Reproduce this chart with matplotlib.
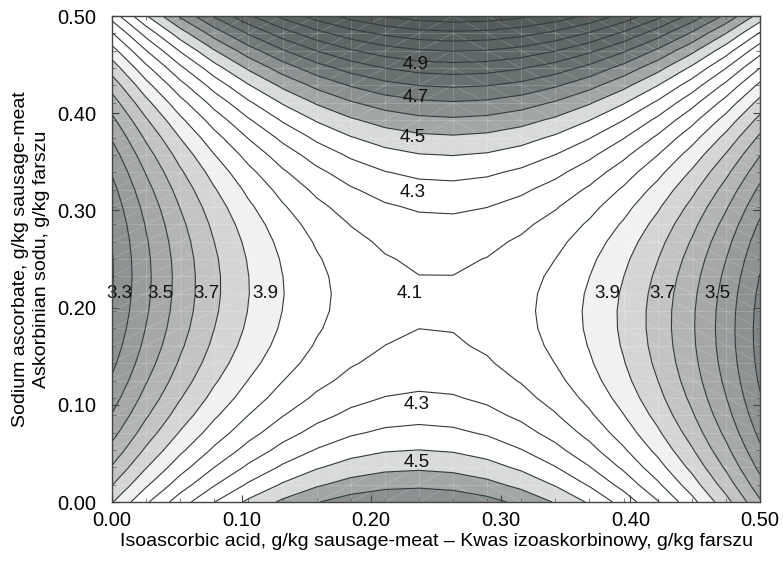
import numpy as np
import matplotlib
matplotlib.use("Agg")
import matplotlib.pyplot as plt
from matplotlib.ticker import FixedLocator, FormatStrFormatter
from matplotlib.collections import LineCollection

plt.rcParams['font.family'] = ['Liberation Sans', 'DejaVu Sans']

# ---- fitted response surface (saddle point + coefficients) ----
saddle_x = 0.248
saddle_y = 0.205
saddle_value = 4.192
coef_uu = -14.3      # (x - x0)^2
coef_uuuu = -2.8     # (x - x0)^4
coef_vv = 12.5       # (y - y0)^2
coef_vvvv = 37.0     # (y - y0)^4
coef_uv = 2.4        # (x - x0)(y - y0)
coef_uuvv = -47.0    # (x - x0)^2 (y - y0)^2

# grid on which the software evaluated the surface
grid_x = np.linspace(0.0, 0.5, 20)
grid_y = np.linspace(0.0, 0.5, 29)

# contour levels and fill colours of each band (lower bound -> colour)
levels = np.round(np.arange(2.9, 6.01, 0.1), 1)
band_colors = ['#727979', '#757b7b', '#797f7f', '#7f8585', '#8c9191', '#999c9c',
               '#a6a8a8', '#b3b4b4', '#c3c3c3', '#d5d5d5', '#f1f1f1',
               '#ffffff', '#ffffff', '#ffffff', '#ffffff', '#ffffff',
               '#d9dada', '#a3a6a6', '#8b9090', '#747b7b', '#697070',
               '#636a6a', '#5f6767', '#5b6363', '#575f5f', '#545c5c',
               '#515959', '#4e5656', '#4d5555', '#4c5454']

# contour labels (value, position)
label_text = ['3.3', '3.5', '3.7', '3.9', '4.1', '3.9', '3.7', '3.5',
              '4.9', '4.7', '4.5', '4.3', '4.3', '4.5']
label_x = [0.006, 0.037, 0.073, 0.118, 0.230, 0.382, 0.425, 0.467,
           0.234, 0.234, 0.232, 0.232, 0.235, 0.235]
label_y = [0.215, 0.215, 0.215, 0.215, 0.215, 0.215, 0.215, 0.215,
           0.450, 0.416, 0.375, 0.318, 0.100, 0.041]

x_ticks = [0.0, 0.1, 0.2, 0.3, 0.4, 0.5]
y_ticks = [0.0, 0.1, 0.2, 0.3, 0.4, 0.5]

X, Y = np.meshgrid(grid_x, grid_y)
U = X - saddle_x
V = Y - saddle_y
Z = (saddle_value + coef_uu * U**2 + coef_uuuu * U**4 + coef_vv * V**2
     + coef_vvvv * V**4 + coef_uv * U * V + coef_uuvv * U**2 * V**2)

fig = plt.figure(figsize=(7.83, 5.68), dpi=100)
ax = fig.add_axes([112/783, 1 - 502/568, 648/783, 486/568])

ax.contourf(X, Y, Z, levels=levels, colors=band_colors, antialiased=True, zorder=1)

# faint mesh seams of the rendered surface (grid cells split into triangles)
segs = []
for gx in grid_x:
    segs.append([(gx, 0.0), (gx, 0.5)])
for gy in grid_y:
    segs.append([(0.0, gy), (0.5, gy)])
for i in range(len(grid_x) - 1):
    for j in range(len(grid_y) - 1):
        x0, x1 = grid_x[i], grid_x[i + 1]
        y0, y1 = grid_y[j], grid_y[j + 1]
        if x1 <= 0.27:
            segs.append([(x0, y0), (x1, y1)])
        else:
            segs.append([(x0, y1), (x1, y0)])
ax.add_collection(LineCollection(segs, colors='white', linewidths=0.6,
                                 alpha=0.2, zorder=2))

ax.contour(X, Y, Z, levels=levels, colors='#2f3a3a', linewidths=0.8, zorder=3)

for s, lx, ly in zip(label_text, label_x, label_y):
    ax.text(lx, ly, s, ha='center', va='center', fontsize=13.5, color='#111111',
            clip_on=False, zorder=5)

ax.set_xlim(0, 0.5)
ax.set_ylim(0, 0.5)
ax.xaxis.set_major_locator(FixedLocator(x_ticks))
ax.yaxis.set_major_locator(FixedLocator(y_ticks))
ax.xaxis.set_minor_locator(FixedLocator(grid_x))
ax.yaxis.set_minor_locator(FixedLocator(grid_y))
ax.xaxis.set_major_formatter(FormatStrFormatter('%.2f'))
ax.yaxis.set_major_formatter(FormatStrFormatter('%.2f'))
ax.tick_params(which='both', direction='in', top=True, right=True,
               colors='#444444', labelcolor='black', labelsize=14.5)
ax.tick_params(which='major', length=5, width=0.8)
ax.tick_params(which='minor', length=3, width=0.6)
ax.tick_params(axis='x', which='major', pad=6.5)
ax.tick_params(axis='y', which='major', pad=11)
for sp in ax.spines.values():
    sp.set_color('#444444')
    sp.set_linewidth(1.0)
    sp.set_zorder(6)

ax.set_xlabel('Isoascorbic acid, g/kg sausage-meat – Kwas izoaskorbinowy, g/kg farszu',
              fontsize=14, labelpad=2)
ax.set_ylabel('Sodium ascorbate, g/kg sausage-meat\nAskorbinian sodu, g/kg farszu',
              fontsize=14, labelpad=5.5, linespacing=1.3)

fig.savefig('out.png', dpi=100)
